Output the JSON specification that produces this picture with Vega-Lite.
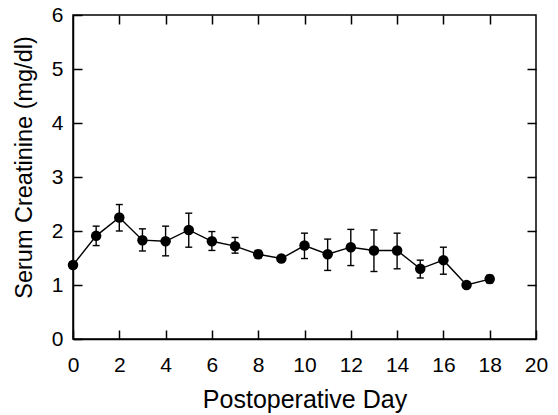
{
  "$schema": "https://vega.github.io/schema/vega-lite/v6.json",
  "width": 463,
  "height": 324,
  "autosize": "none",
  "padding": {"left": 73, "top": 15, "right": 22, "bottom": 76},
  "background": "white",
  "config": {
    "view": {"stroke": "black", "strokeWidth": 1.5},
    "font": "Liberation Sans",
    "axis": {
      "domainColor": "black",
      "domainWidth": 1.5,
      "tickColor": "black",
      "tickWidth": 1.5,
      "tickSize": -9,
      "grid": false,
      "labelFlush": false,
      "labelOverlap": false,
      "labelColor": "black",
      "labelFont": "Liberation Sans",
      "labelFontSize": 21,
      "titleColor": "black",
      "titleFont": "Liberation Sans",
      "titleFontSize": 25,
      "titleFontWeight": "normal"
    }
  },
  "data": {
    "values": [
      {"day": 0, "mean": 1.37, "lo": 1.31, "hi": 1.43},
      {"day": 1, "mean": 1.91, "lo": 1.73, "hi": 2.09},
      {"day": 2, "mean": 2.25, "lo": 2.0, "hi": 2.49},
      {"day": 3, "mean": 1.83, "lo": 1.63, "hi": 2.04},
      {"day": 4, "mean": 1.81, "lo": 1.54, "hi": 2.09},
      {"day": 5, "mean": 2.02, "lo": 1.7, "hi": 2.33},
      {"day": 6, "mean": 1.81, "lo": 1.64, "hi": 1.99},
      {"day": 7, "mean": 1.72, "lo": 1.59, "hi": 1.88},
      {"day": 8, "mean": 1.57, "lo": 1.5, "hi": 1.64},
      {"day": 9, "mean": 1.49, "lo": 1.44, "hi": 1.54},
      {"day": 10, "mean": 1.73, "lo": 1.49, "hi": 1.96},
      {"day": 11, "mean": 1.57, "lo": 1.27, "hi": 1.85},
      {"day": 12, "mean": 1.7, "lo": 1.36, "hi": 2.03},
      {"day": 13, "mean": 1.64, "lo": 1.25, "hi": 2.02},
      {"day": 14, "mean": 1.64, "lo": 1.3, "hi": 1.96},
      {"day": 15, "mean": 1.3, "lo": 1.13, "hi": 1.46},
      {"day": 16, "mean": 1.46, "lo": 1.2, "hi": 1.7},
      {"day": 17, "mean": 1.0, "lo": 0.98, "hi": 1.02},
      {"day": 18, "mean": 1.11, "lo": 1.04, "hi": 1.18}
    ]
  },
  "layer": [
    {
      "mark": {"type": "point", "opacity": 0},
      "encoding": {
        "x": {
          "field": "day", "type": "quantitative",
          "scale": {"domain": [0, 20], "nice": false, "zero": false},
          "axis": {"orient": "top", "values": [2, 4, 6, 8, 10, 12, 14, 16, 18], "labels": false, "title": null, "domain": false}
        },
        "y": {
          "field": "mean", "type": "quantitative",
          "scale": {"domain": [0, 6], "nice": false},
          "axis": {"orient": "right", "values": [1, 2, 3, 4, 5], "labels": false, "title": null, "domain": false}
        }
      }
    },
    {
      "mark": {"type": "rule", "color": "black", "strokeWidth": 1.4},
      "encoding": {
        "x": {
          "field": "day", "type": "quantitative",
          "axis": {"orient": "bottom", "values": [0, 2, 4, 6, 8, 10, 12, 14, 16, 18, 20], "title": "Postoperative Day", "labelPadding": 24, "titlePadding": 12}
        },
        "y": {
          "field": "lo", "type": "quantitative",
          "axis": {"orient": "left", "values": [0, 1, 2, 3, 4, 5, 6], "title": "Serum Creatinine (mg/dl)", "titleFontSize": 23.5, "titleY": 152, "labelPadding": 19, "titlePadding": 15}
        },
        "y2": {"field": "hi"}
      }
    },
    {
      "mark": {"type": "tick", "orient": "horizontal", "size": 7, "thickness": 1.4, "color": "black", "opacity": 1},
      "encoding": {
        "x": {"field": "day", "type": "quantitative", "axis": null},
        "y": {"field": "lo", "type": "quantitative", "axis": null}
      }
    },
    {
      "mark": {"type": "tick", "orient": "horizontal", "size": 7, "thickness": 1.4, "color": "black", "opacity": 1},
      "encoding": {
        "x": {"field": "day", "type": "quantitative", "axis": null},
        "y": {"field": "hi", "type": "quantitative", "axis": null}
      }
    },
    {
      "mark": {"type": "line", "color": "black", "strokeWidth": 1.4, "point": {"filled": true, "size": 110, "color": "black", "opacity": 1}},
      "encoding": {
        "x": {"field": "day", "type": "quantitative", "axis": null},
        "y": {"field": "mean", "type": "quantitative", "axis": null}
      }
    }
  ],
  "resolve": {"axis": {"x": "independent", "y": "independent"}}
}
